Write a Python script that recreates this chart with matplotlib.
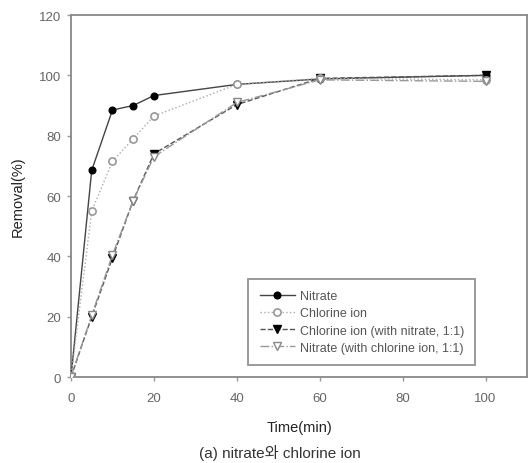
"""Removal(%) vs time for nitrate / chlorine ion."""
import matplotlib
matplotlib.use('Agg')
import matplotlib.pyplot as plt

plt.rcParams['font.family'] = ['Liberation Sans', 'Noto Sans CJK KR', 'DejaVu Sans']

time = [0, 5, 10, 15, 20, 40, 60, 100]
nitrate = [0, 68.5, 88.5, 90, 93.3, 97, 98.8, 100]
chlorine = [0, 55, 71.5, 79, 86.5, 97, 99, 98.5]
chlorine_w_nitrate = [0, 20, 39.5, 58.5, 74, 90.3, 99, 100]
nitrate_w_chlorine = [0, 20.5, 40.5, 58.5, 73, 91, 98.5, 98]

x_ticks = [0, 20, 40, 60, 80, 100]
y_ticks = [0, 20, 40, 60, 80, 100, 120]

fig = plt.figure(figsize=(5.31, 4.64), dpi=100)
ax = fig.add_axes([0.1337, 0.1853, 0.8588, 0.7802])

ax.plot(time, nitrate, '-', color='#444444', lw=1.0, marker='o', ms=4.8,
        mfc='black', mec='black', label='Nitrate', zorder=3)
ax.plot(time, chlorine, ':', color='#aaaaaa', lw=1.0, marker='o', ms=5.2,
        mfc='white', mec='#999999', mew=1.2, label='Chlorine ion', zorder=4)
ax.plot(time, chlorine_w_nitrate, '--', color='#555555', lw=1.0, marker='v', ms=5.2,
        mfc='black', mec='black', label='Chlorine ion (with nitrate, 1:1)', zorder=3)
ax.plot(time, nitrate_w_chlorine, '-.', color='#999999', lw=1.0, marker='v', ms=5.2,
        mfc='white', mec='#888888', mew=1.0, label='Nitrate (with chlorine ion, 1:1)', zorder=4)

ax.set_xlim(0, 110)
ax.set_ylim(0, 120)
ax.set_xticks(x_ticks)
ax.set_yticks(y_ticks)
ax.tick_params(direction='out', length=3, width=1, colors='#999999',
               labelcolor='#666666', labelsize=9.5)
ax.tick_params(axis='x', pad=8)
ax.tick_params(axis='y', pad=4)
for s in ax.spines.values():
    s.set_color('#888888')
    s.set_linewidth(1.3)

ax.set_xlabel('Time(min)', fontsize=10.5, color='#222222', labelpad=11)
ax.set_ylabel('Removal(%)', fontsize=10.5, color='#222222', labelpad=10)

leg = ax.legend(loc='lower right', bbox_to_anchor=(0.886, 0.033), fontsize=9,
                frameon=True, fancybox=False, edgecolor='#777777',
                handlelength=2.8, handletextpad=0.4, borderpad=0.9,
                labelspacing=0.42, labelcolor='#555555', borderaxespad=0)
leg.get_frame().set_linewidth(1.3)

fig.text(0.528, 0.024, '(a) nitrate와 chlorine ion', ha='center', va='center',
         fontsize=11, color='#333333')

plt.savefig('out.png', dpi=100)
